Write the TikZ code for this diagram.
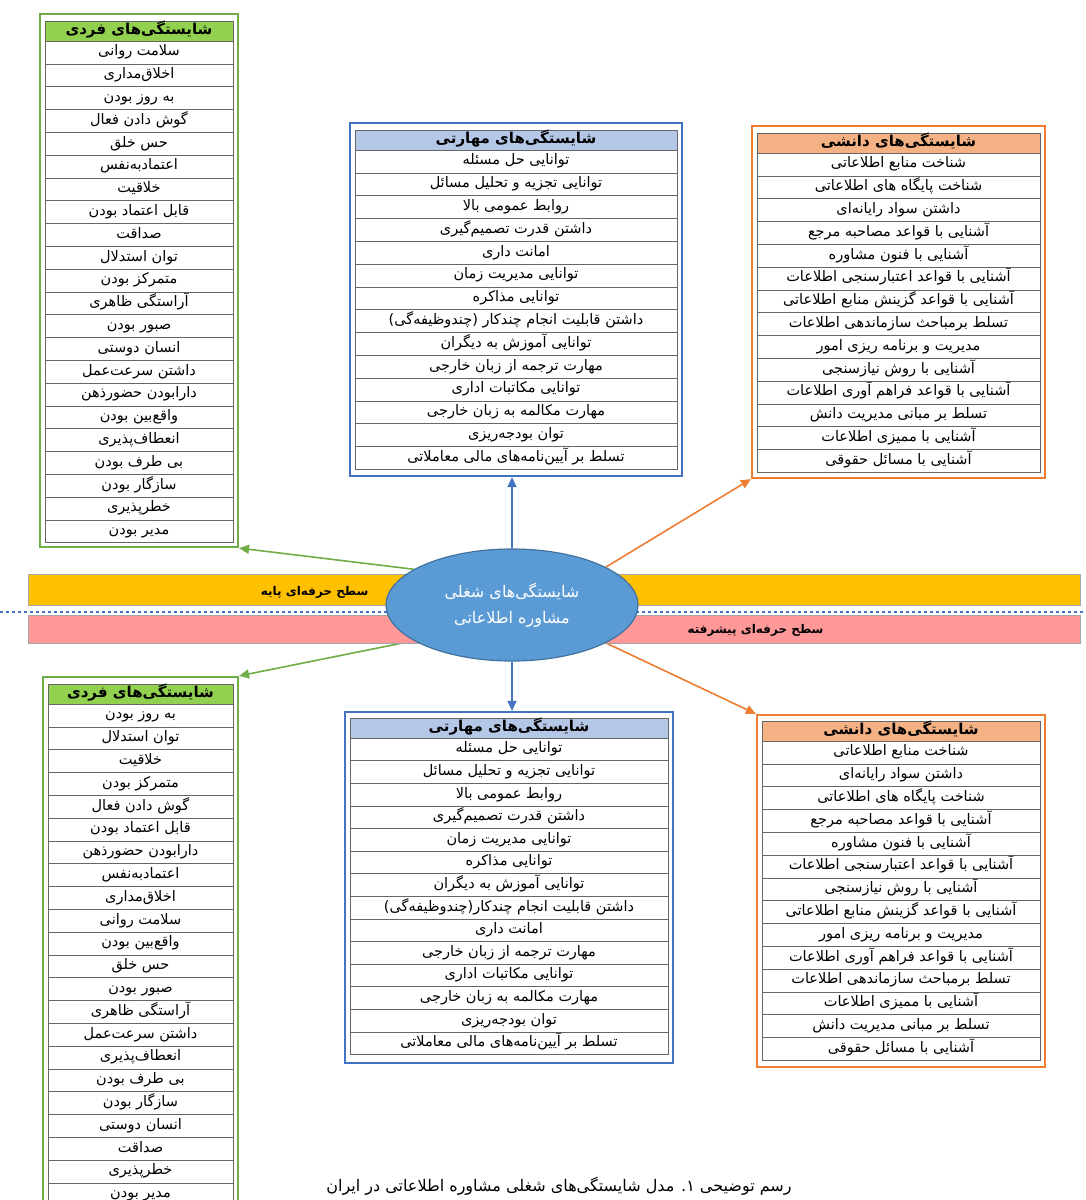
\documentclass[tikz,border=0pt]{standalone}
\usepackage{fontspec}
\newfontfamily\farsi[Script=Arabic]{DejaVu Sans}
\TeXXeTstate=1
\usetikzlibrary{shapes.geometric,arrows.meta}
\pgfdeclarelayer{back}
\pgfsetlayers{back,main}
\definecolor{greenline}{HTML}{70AD47}
\definecolor{greenfill}{HTML}{92D050}
\definecolor{blueline}{HTML}{4472C4}
\definecolor{bluefill}{HTML}{B4C7E7}
\definecolor{orangeline}{HTML}{ED7D31}
\definecolor{orangefill}{HTML}{F4B183}
\definecolor{bandyellow}{HTML}{FFC000}
\definecolor{bandpink}{HTML}{FF9999}
\definecolor{corefill}{HTML}{5B9BD5}
\definecolor{coreline}{HTML}{41719C}
% one table: name, centre x, header top, width, row height, colour, title, items
\newcommand\complist[8]{%
  \node[headbox, fill=#6fill, minimum width=#4] (#1-h) at (#2,#3+10) {#7};
  \foreach \txt [count=\i] in {#8}
    \node[rowbox, minimum width=#4, minimum height=#5] (#1-\i) at (#2,{#3+20+(\i-.5)*#5}) {\txt};
}
\tikzset{
    frame/.style={
           rectangle,
           fill=white,
           line width=2.2pt
           },
    headbox/.style={
           rectangle,
           draw=black!60, line width=.6pt,
           minimum height=20pt,
           inner sep=0pt, text height=11pt, text depth=4pt,
           font=\farsi\bfseries\fontsize{15}{16}\selectfont
           },
    rowbox/.style={
           rectangle,
           draw=black!60, line width=.6pt,
           fill=white,
           inner sep=0pt, text height=11pt, text depth=4pt,
           font=\farsi\fontsize{14.5}{16}\selectfont
           },
    core/.style={
           ellipse,
           fill=corefill, draw=coreline, line width=1.2pt,
           minimum width=252pt, minimum height=112pt,
           inner sep=0pt, align=center, text=white,
           font=\farsi\fontsize{16}{26}\selectfont
           },
    band/.style={
           rectangle,
           draw=black!35, line width=.5pt,
           minimum width=1052pt
           },
    bandtext/.style={
           font=\farsi\bfseries\fontsize{12}{13}\selectfont
           },
    link/.style={
           line width=1.6pt, draw=#1
           },
    dashline/.style={
           draw=blueline, dashed, line width=1.5pt
           },
    caption/.style={
           font=\farsi\fontsize{16}{17}\selectfont
           }
}
\begin{document}
\begin{tikzpicture}[x=1pt, y=-1pt, >={Triangle[length=10pt,width=9pt]}]
\useasboundingbox (0,0) rectangle (1086,1200);
   % frames
   \node[frame, draw=greenline, minimum width=198pt, minimum height=533pt] (tl) at (139,280.5) {};
   \node[frame, draw=blueline, minimum width=332pt, minimum height=353pt] (tm) at (516,299.5) {};
   \node[frame, draw=orangeline, minimum width=293pt, minimum height=352pt] (tr) at (898.5,302) {};
   \node[frame, draw=greenline, minimum width=195pt, minimum height=538pt] (bl) at (140.5,946) {};
   \node[frame, draw=blueline, minimum width=328pt, minimum height=351pt] (bm) at (509,887.5) {};
   \node[frame, draw=orangeline, minimum width=288pt, minimum height=352pt] (br) at (901,891) {};
   % tables, basic level
   \complist{tl}{139}{21}{188}{22.8}{green}{\beginR شایستگی‌های فردی\endR}{\beginR سلامت روانی\endR, \beginR اخلاق‌مداری\endR, \beginR به روز بودن\endR, \beginR گوش دادن فعال\endR, \beginR حس خلق\endR, \beginR اعتمادبه‌نفس\endR, \beginR خلاقیت\endR, \beginR قابل اعتماد بودن\endR, \beginR صداقت\endR, \beginR توان استدلال\endR, \beginR متمرکز بودن\endR, \beginR آراستگی ظاهری\endR, \beginR صبور بودن\endR, \beginR انسان دوستی\endR, \beginR داشتن سرعت‌عمل\endR, \beginR دارابودن حضورذهن\endR, \beginR واقع‌بین بودن\endR, \beginR انعطاف‌پذیری\endR, \beginR بی طرف بودن\endR, \beginR سازگار بودن\endR, \beginR خطرپذیری\endR, \beginR مدیر بودن\endR}
   \complist{tm}{516}{130}{322}{22.8}{blue}{\beginR شایستگی‌های مهارتی\endR}{\beginR توانایی حل مسئله\endR, \beginR توانایی تجزیه و تحلیل مسائل\endR, \beginR روابط عمومی بالا\endR, \beginR داشتن قدرت تصمیم‌گیری\endR, \beginR امانت داری\endR, \beginR توانایی مدیریت زمان\endR, \beginR توانایی مذاکره\endR, \beginR داشتن قابلیت انجام چندکار (چندوظیفه‌گی)\endR, \beginR توانایی آموزش به دیگران\endR, \beginR مهارت ترجمه از زبان خارجی\endR, \beginR توانایی مکاتبات اداری\endR, \beginR مهارت مکالمه به زبان خارجی\endR, \beginR توان بودجه‌ریزی\endR, \beginR تسلط بر آیین‌نامه‌های مالی معاملاتی\endR}
   \complist{tr}{898.5}{133}{283}{22.8}{orange}{\beginR شایستگی‌های دانشی\endR}{\beginR شناخت منابع اطلاعاتی\endR, \beginR شناخت پایگاه های اطلاعاتی\endR, \beginR داشتن سواد رایانه‌ای\endR, \beginR آشنایی با قواعد مصاحبه مرجع\endR, \beginR آشنایی با فنون مشاوره\endR, \beginR آشنایی با قواعد اعتبارسنجی اطلاعات\endR, \beginR آشنایی با قواعد گزینش منابع اطلاعاتی\endR, \beginR تسلط برمباحث سازماندهی اطلاعات\endR, \beginR مدیریت و برنامه ریزی امور\endR, \beginR آشنایی با روش نیازسنجی\endR, \beginR آشنایی با قواعد فراهم آوری اطلاعات\endR, \beginR تسلط بر مبانی مدیریت دانش\endR, \beginR آشنایی با ممیزی اطلاعات\endR, \beginR آشنایی با مسائل حقوقی\endR}
   % tables, advanced level
   \complist{bl}{140.5}{684}{185}{22.8}{green}{\beginR شایستگی‌های فردی\endR}{\beginR به روز بودن\endR, \beginR توان استدلال\endR, \beginR خلاقیت\endR, \beginR متمرکز بودن\endR, \beginR گوش دادن فعال\endR, \beginR قابل اعتماد بودن\endR, \beginR دارابودن حضورذهن\endR, \beginR اعتمادبه‌نفس\endR, \beginR اخلاق‌مداری\endR, \beginR سلامت روانی\endR, \beginR واقع‌بین بودن\endR, \beginR حس خلق\endR, \beginR صبور بودن\endR, \beginR آراستگی ظاهری\endR, \beginR داشتن سرعت‌عمل\endR, \beginR انعطاف‌پذیری\endR, \beginR بی طرف بودن\endR, \beginR سازگار بودن\endR, \beginR انسان دوستی\endR, \beginR صداقت\endR, \beginR خطرپذیری\endR, \beginR مدیر بودن\endR}
   \complist{bm}{509}{718}{318}{22.6}{blue}{\beginR شایستگی‌های مهارتی\endR}{\beginR توانایی حل مسئله\endR, \beginR توانایی تجزیه و تحلیل مسائل\endR, \beginR روابط عمومی بالا\endR, \beginR داشتن قدرت تصمیم‌گیری\endR, \beginR توانایی مدیریت زمان\endR, \beginR توانایی مذاکره\endR, \beginR توانایی آموزش به دیگران\endR, \beginR داشتن قابلیت انجام چندکار(چندوظیفه‌گی)\endR, \beginR امانت داری\endR, \beginR مهارت ترجمه از زبان خارجی\endR, \beginR توانایی مکاتبات اداری\endR, \beginR مهارت مکالمه به زبان خارجی\endR, \beginR توان بودجه‌ریزی\endR, \beginR تسلط بر آیین‌نامه‌های مالی معاملاتی\endR}
   \complist{br}{901}{721}{278}{22.8}{orange}{\beginR شایستگی‌های دانشی\endR}{\beginR شناخت منابع اطلاعاتی\endR, \beginR داشتن سواد رایانه‌ای\endR, \beginR شناخت پایگاه های اطلاعاتی\endR, \beginR آشنایی با قواعد مصاحبه مرجع\endR, \beginR آشنایی با فنون مشاوره\endR, \beginR آشنایی با قواعد اعتبارسنجی اطلاعات\endR, \beginR آشنایی با روش نیازسنجی\endR, \beginR آشنایی با قواعد گزینش منابع اطلاعاتی\endR, \beginR مدیریت و برنامه ریزی امور\endR, \beginR آشنایی با قواعد فراهم آوری اطلاعات\endR, \beginR تسلط برمباحث سازماندهی اطلاعات\endR, \beginR آشنایی با ممیزی اطلاعات\endR, \beginR تسلط بر مبانی مدیریت دانش\endR, \beginR آشنایی با مسائل حقوقی\endR}
   % centre
   \node[core] (core) at (512,605) {\beginR شایستگی‌های شغلی\endR\\\beginR مشاوره اطلاعاتی\endR};
   \begin{pgfonlayer}{back}
   \path[->]
    (core.160) edge[link=greenline] (tl.south east)
    (core.north) edge[link=blueline] (core.north |- tm.south)
    (core.22) edge[link=orangeline] (tr.south west)
    (core.200) edge[link=greenline] (bl.north east)
    (core.south) edge[link=blueline] (core.south |- bm.north)
    (core.338) edge[link=orangeline] (br.north west);
   \node[band, fill=bandyellow, minimum height=31pt] (basic) at (554,589.5) {};
   \node[band, fill=bandpink, minimum height=28pt] (advanced) at (554,629) {};
   \node[bandtext, anchor=east] (basictxt) at (372,592) {\beginR سطح حرفه‌ای پایه\endR};
   \node[bandtext, anchor=west] (advtxt) at (684,630) {\beginR سطح حرفه‌ای پیشرفته\endR};
   \coordinate (dl) at (0,612);
   \coordinate (dr) at (1086,612);
   \draw[dashline] (dl) -- (dr);
   \end{pgfonlayer}
   \node[caption] (cap) at (559,1186) {\beginR رسم توضیحی ۱. مدل شایستگی‌های شغلی مشاوره اطلاعاتی در ایران\endR};
\end{tikzpicture}
\end{document}
